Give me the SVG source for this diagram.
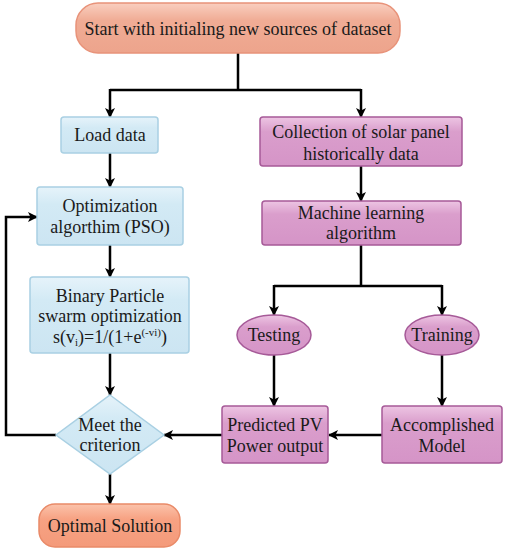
<svg xmlns="http://www.w3.org/2000/svg" width="506" height="550" viewBox="0 0 506 550">
<defs>
<linearGradient id="gSalmon" x1="0" y1="0" x2="0" y2="1">
<stop offset="0" stop-color="#F9CFC0"/><stop offset="0.35" stop-color="#F0AC95"/><stop offset="1" stop-color="#EDA48C"/>
</linearGradient>
<linearGradient id="gOrange" x1="0" y1="0" x2="0" y2="1">
<stop offset="0" stop-color="#FBC3AB"/><stop offset="0.35" stop-color="#F7A283"/><stop offset="1" stop-color="#F49A7A"/>
</linearGradient>
<linearGradient id="gBlue" x1="0" y1="0" x2="0" y2="1">
<stop offset="0" stop-color="#E6F3FA"/><stop offset="0.3" stop-color="#D3EAF5"/><stop offset="1" stop-color="#CCE5F2"/>
</linearGradient>
<linearGradient id="gPink" x1="0" y1="0" x2="0" y2="1">
<stop offset="0" stop-color="#EDC5E3"/><stop offset="0.3" stop-color="#DA9ECC"/><stop offset="1" stop-color="#D594C7"/>
</linearGradient>
<marker id="arr" viewBox="0 0 10 10" refX="9" refY="5" markerWidth="4" markerHeight="4" orient="auto" markerUnits="strokeWidth">
<path d="M0,0 L10,5 L0,10 L2.5,5 z" fill="#000"/>
</marker>
<style>
.blue{fill:url(#gBlue);stroke:#A9D0E3;stroke-width:1.5}
.pink{fill:url(#gPink);stroke:#A65A98;stroke-width:1.5}
.c{fill:none;stroke:#000;stroke-width:2.5}
.ca{fill:none;stroke:#000;stroke-width:2.5;marker-end:url(#arr)}
</style>
</defs>
<g id="connectors">
<path class="c" d="M238,53 V90 M110,90 H361"/>
<path class="ca" d="M110,89 V117"/>
<path class="ca" d="M361,89 V117"/>
<path class="ca" d="M110,153 V187"/>
<path class="ca" d="M110,245 V277"/>
<path class="ca" d="M110,353 V395"/>
<path class="ca" d="M110,474 V504"/>
<path class="ca" d="M56,435 H6 V217 H37"/>
<path class="ca" d="M361,166 V201"/>
<path class="c" d="M361,245 V286 M274,286 H442"/>
<path class="ca" d="M274,285 V315"/>
<path class="ca" d="M442,285 V315"/>
<path class="ca" d="M274,355 V406"/>
<path class="ca" d="M442,355 V406"/>
<path class="ca" d="M382,435 H329"/>
<path class="ca" d="M222,435 H164"/>
</g>
<g id="start">
<rect x="76" y="3" width="324" height="50" rx="22" fill="url(#gSalmon)" stroke="#E8937A" stroke-width="1.5"/>
<text font-family="Liberation Serif" font-size="18" text-anchor="middle" fill="#1a1a1a" x="238" y="35">Start with initialing new sources of dataset</text>
</g>
<g id="load">
<rect class="blue" x="61" y="117" width="97" height="36" rx="3"/>
<text font-family="Liberation Serif" font-size="18" text-anchor="middle" fill="#1a1a1a" x="110" y="141">Load data</text>
</g>
<g id="pso">
<rect class="blue" x="37" y="187" width="146" height="58" rx="3"/>
<text font-family="Liberation Serif" font-size="18" text-anchor="middle" fill="#1a1a1a" x="110" y="212">Optimization</text>
<text font-family="Liberation Serif" font-size="18" text-anchor="middle" fill="#1a1a1a" x="110" y="233">algorthim (PSO)</text>
</g>
<g id="bpso">
<rect class="blue" x="30" y="277" width="159" height="76" rx="3"/>
<text font-family="Liberation Serif" font-size="18" text-anchor="middle" fill="#1a1a1a" x="110" y="302">Binary Particle</text>
<text font-family="Liberation Serif" font-size="18" text-anchor="middle" fill="#1a1a1a" x="110" y="322">swarm optimization</text>
<text font-family="Liberation Serif" font-size="18" text-anchor="middle" fill="#1a1a1a" x="110" y="343">s(v<tspan font-size="11" dy="3">i</tspan><tspan dy="-3">)=1/(1+e</tspan><tspan font-size="11" dy="-7">(-vi)</tspan><tspan dy="7">)</tspan></text>
</g>
<g id="criterion">
<polygon class="blue" points="110,395 164,435 110,474 56,435"/>
<text font-family="Liberation Serif" font-size="18" text-anchor="middle" fill="#1a1a1a" x="110" y="431">Meet the</text>
<text font-family="Liberation Serif" font-size="18" text-anchor="middle" fill="#1a1a1a" x="110" y="451">criterion</text>
</g>
<g id="optimal">
<rect x="39" y="504" width="141" height="43" rx="16" fill="url(#gOrange)" stroke="#E98A68" stroke-width="1.5"/>
<text font-family="Liberation Serif" font-size="18" text-anchor="middle" fill="#1a1a1a" x="110" y="532">Optimal Solution</text>
</g>
<g id="collection">
<rect class="pink" x="260" y="117" width="202" height="49" rx="3"/>
<text style="font-family:'Liberation Serif';font-size:18px;text-anchor:middle;fill:#1a1a1a" x="361" y="138">Collection of solar panel</text>
<text style="font-family:'Liberation Serif';font-size:18px;text-anchor:middle;fill:#1a1a1a" x="361" y="160">historically data</text>
</g>
<g id="ml">
<rect class="pink" x="262" y="201" width="199" height="44" rx="3"/>
<text style="font-family:'Liberation Serif';font-size:18px;text-anchor:middle;fill:#1a1a1a" x="361" y="219">Machine learning</text>
<text style="font-family:'Liberation Serif';font-size:18px;text-anchor:middle;fill:#1a1a1a" x="361" y="239">algorithm</text>
</g>
<g id="testing">
<ellipse class="pink" cx="274" cy="335" rx="37" ry="20"/>
<text style="font-family:'Liberation Serif';font-size:18px;text-anchor:middle;fill:#1a1a1a" x="274" y="341">Testing</text>
</g>
<g id="training">
<ellipse class="pink" cx="442" cy="335" rx="37" ry="20"/>
<text style="font-family:'Liberation Serif';font-size:18px;text-anchor:middle;fill:#1a1a1a" x="442" y="341">Training</text>
</g>
<g id="predicted">
<rect class="pink" x="222" y="406" width="106" height="57" rx="3"/>
<text style="font-family:'Liberation Serif';font-size:18px;text-anchor:middle;fill:#1a1a1a" x="275" y="431">Predicted PV</text>
<text style="font-family:'Liberation Serif';font-size:18px;text-anchor:middle;fill:#1a1a1a" x="275" y="452">Power output</text>
</g>
<g id="accomplished">
<rect class="pink" x="382" y="406" width="120" height="57" rx="3"/>
<text style="font-family:'Liberation Serif';font-size:18px;text-anchor:middle;fill:#1a1a1a" x="442" y="431">Accomplished</text>
<text style="font-family:'Liberation Serif';font-size:18px;text-anchor:middle;fill:#1a1a1a" x="442" y="452">Model</text>
</g>
</svg>
